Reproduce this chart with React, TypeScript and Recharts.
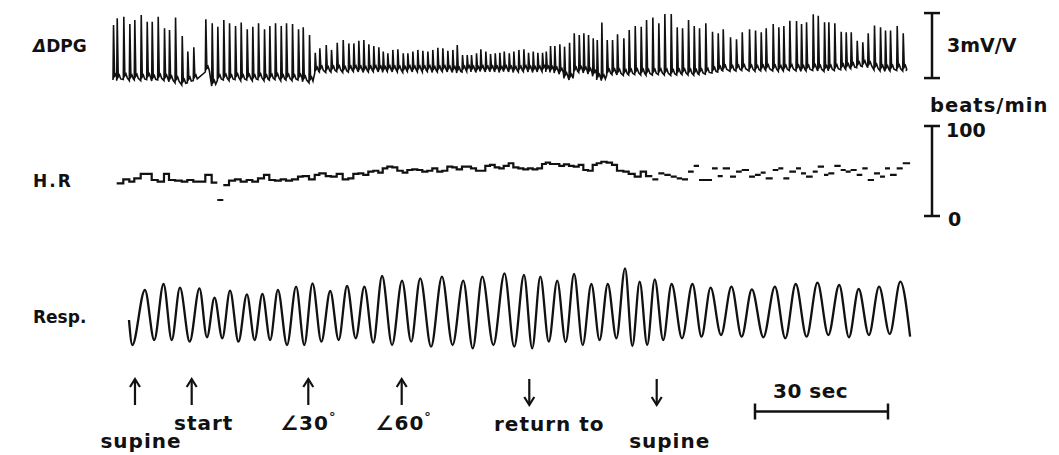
import { ComposedChart, Line, XAxis, YAxis, ReferenceLine, ReferenceDot } from 'recharts'

const W = 1059
const H = 455
const INK = '#111'
const FONT = '"DejaVu Sans", sans-serif'

// time axis: 30 s = 133 px, traces start at x = 113
const PX_PER_S = 133 / 30
const T0_PX = 113

// ---- beat times (s) ----
const beatT = [
  0.0, 0.83, 2.32, 3.68, 4.8, 6.25, 7.6, 8.73, 10.08, 11.5,
  12.63, 13.99, 15.5, 16.76, 18.11, 20.82, 22.26, 23.53, 24.88, 26.17,
  27.52, 28.8, 30.16, 31.42, 32.71, 34.06, 35.26, 36.54, 37.83, 39.02,
  40.38, 41.73, 42.79, 44.21, 45.5, 46.54, 47.98, 49.17, 50.46, 51.81,
  53.08, 54.21, 55.33, 56.46, 57.59, 58.71, 59.84, 60.84, 61.87, 63.0,
  64.13, 65.35, 66.39, 67.52, 68.64, 69.77, 70.9, 72.02, 73.15, 74.28,
  75.41, 76.54, 77.53, 78.72, 79.78, 80.75, 81.88, 82.85, 83.98, 85.04,
  86.1, 87.14, 88.13, 89.26, 90.3, 91.43, 92.56, 93.61, 94.67, 95.71,
  96.77, 97.61, 98.57, 99.54, 100.67, 101.73, 102.86, 103.92, 105.05, 106.09,
  107.14, 108.2, 109.11, 110.15, 111.36, 112.56, 113.68, 115.11, 116.32, 117.68,
  119.03, 120.23, 121.65, 123.0, 124.36, 125.8, 127.15, 128.35, 129.7, 130.99,
  132.18, 133.6, 135.11, 136.4, 137.53, 139.17, 140.52, 141.82, 143.46, 144.81,
  146.1, 147.22, 148.8, 150.07, 151.2, 152.55, 154.06, 155.19, 156.32, 157.83,
  158.96, 160.38, 161.35, 162.7, 164.14, 165.27, 166.4, 167.75, 169.01, 170.23,
  171.65, 173.01, 174.13, 175.26, 176.77, 178.13,
]

// ΔDPG peak and baseline per beat (mV/V)
const dpgPeak = [
  2.77, 3.08, 3.15, 2.81, 3.0, 3.23, 2.92, 2.92, 3.15, 2.62,
  2.54, 3.12, 2.26, 1.54, 1.74, 3.03, 2.85, 2.69, 3.0, 2.85,
  2.72, 2.88, 2.57, 2.69, 2.85, 2.57, 2.72, 2.85, 2.72, 2.85,
  2.81, 2.57, 2.66, 2.31, 1.49, 1.69, 1.85, 1.62, 1.95, 2.08,
  1.92, 1.92, 2.04, 2.08, 1.88, 1.8, 1.74, 1.54, 1.46, 1.62,
  1.65, 1.46, 1.46, 1.54, 1.62, 1.58, 1.54, 1.62, 1.72, 1.69,
  1.58, 1.62, 1.85, 1.38, 1.38, 1.38, 1.46, 1.65, 1.54, 1.43,
  1.46, 1.49, 1.54, 1.46, 1.54, 1.62, 1.65, 1.49, 1.54, 1.49,
  1.49, 1.54, 1.8, 1.8, 1.88, 1.77, 1.95, 2.39, 2.31, 2.39,
  2.31, 2.16, 2.08, 2.88, 2.08, 2.08, 2.34, 2.16, 2.54, 2.72,
  2.69, 3.0, 3.12, 2.85, 3.28, 3.28, 2.66, 2.62, 3.0, 2.72,
  2.62, 2.85, 2.46, 2.39, 2.57, 2.2, 2.11, 2.43, 2.57, 2.51,
  2.43, 2.62, 2.81, 2.66, 2.72, 2.97, 2.95, 2.81, 2.89, 3.26,
  3.2, 2.89, 2.89, 2.85, 2.46, 2.43, 2.43, 2.04, 1.97, 2.39,
  2.74, 2.66, 2.51, 2.51, 2.72, 2.39,
]
const dpgBase = [
  0.23, 0.2, 0.25, 0.2, 0.23, 0.2, 0.25, 0.18, 0.23, 0.2,
  0.15, 0.1, 0.0, 0.1, 0.2, 0.6, -0.05, 0.2, 0.23, 0.2,
  0.25, 0.2, 0.23, 0.2, 0.25, 0.2, 0.23, 0.25, 0.2, 0.23,
  0.2, 0.23, 0.15, 0.1, 0.55, 0.6, 0.58, 0.6, 0.62, 0.58,
  0.6, 0.62, 0.6, 0.58, 0.6, 0.62, 0.6, 0.58, 0.62, 0.6,
  0.6, 0.58, 0.62, 0.6, 0.61, 0.6, 0.62, 0.58, 0.6, 0.62,
  0.6, 0.58, 0.55, 0.6, 0.62, 0.6, 0.58, 0.62, 0.6, 0.61,
  0.6, 0.58, 0.62, 0.6, 0.58, 0.6, 0.62, 0.6, 0.58, 0.6,
  0.62, 0.6, 0.58, 0.55, 0.5, 0.3, 0.23, 0.55, 0.58, 0.55,
  0.5, 0.4, 0.23, 0.2, 0.46, 0.48, 0.46, 0.44, 0.46, 0.48,
  0.46, 0.45, 0.46, 0.48, 0.46, 0.44, 0.46, 0.48, 0.46, 0.45,
  0.48, 0.5, 0.55, 0.6, 0.65, 0.63, 0.65, 0.67, 0.65, 0.63,
  0.65, 0.67, 0.65, 0.63, 0.65, 0.67, 0.65, 0.63, 0.65, 0.67,
  0.65, 0.63, 0.65, 0.67, 0.7, 0.72, 0.75, 0.8, 0.85, 0.8,
  0.7, 0.65, 0.63, 0.65, 0.67, 0.65,
]
const DPG_END_T = 178.9

// heart rate per beat (beats/min), step trace
const hrBpm: (number | null)[] = [
  null, 36.3, 40.8, 38.1, 41.9, 46.7, 46.7, 40.0, 38.1, 46.7,
  40.0, 39.2, 38.1, 40.0, 38.1, 45.6, 37.0, 17.8, 34.4, 39.2,
  40.8, 38.1, 40.0, 38.1, 41.9, 45.6, 40.0, 39.2, 40.8, 39.2,
  40.8, 43.7, 44.4, 40.8, 45.6, 47.4, 44.4, 43.7, 46.7, 40.8,
  41.9, 46.7, 47.4, 45.6, 49.2, 50.3, 48.1, 53.0, 54.8, 54.1,
  50.3, 48.1, 51.1, 51.9, 51.1, 49.2, 50.3, 53.0, 49.2, 50.3,
  54.8, 54.1, 51.9, 54.8, 54.8, 53.0, 50.3, 50.3, 55.6, 56.7,
  54.1, 53.0, 55.6, 58.6, 54.1, 53.0, 51.9, 53.0, 51.9, 53.0,
  57.8, 59.2, 57.8, 57.8, 55.6, 57.4, 55.6, 54.8, 56.7, 51.1,
  50.3, 56.7, 58.6, 60.3, 59.2, 56.7, 50.3, 49.2, 46.7, 43.7,
  49.2, 44.4, 40.8, 47.4, 45.6, 43.7, 41.9, 40.8, 49.2, 55.6,
  40.0, 40.0, 53.0, 44.4, 53.0, 43.7, 49.2, 51.1, 43.7, 45.6,
  48.1, 41.9, 51.1, 53.0, 41.9, 49.2, 53.0, 47.4, 43.7, 49.2,
  54.8, 45.6, 47.4, 55.6, 51.1, 49.2, 51.1, 45.6, 53.0, 40.0,
  47.4, 43.7, 53.0, 45.6, 53.0, 58.6,
]
const hrLoneBeats = [17]
const HR_BROKEN_FROM_T = 121
const HR_END_T = 179.8

// respiration: alternating troughs / peaks (a.u.)
const respT = [
  3.61, 4.35, 7.2, 9.3, 11.4, 13.25, 15.1, 17.3, 19.5, 21.2, 22.9, 24.65, 26.4, 28.3,
  30.2, 31.95, 33.7, 35.45, 37.2, 39.25, 41.3, 43.15, 45.0, 47.0, 49.0, 50.9, 52.8,
  54.75, 56.7, 58.7, 60.7, 62.95, 65.2, 67.25, 69.3, 71.75, 74.2, 76.6, 79.0, 81.15,
  83.3, 85.8, 88.3, 90.5, 92.7, 94.55, 96.4, 98.3, 100.2, 102.1, 104.0, 105.95, 107.9,
  109.75, 111.6, 113.55, 115.5, 117.15, 118.8, 120.5, 122.2, 124.1, 126.0, 128.35,
  130.7, 132.75, 134.8, 137.15, 139.5, 141.8, 144.1, 146.7, 149.3, 151.65, 154.0,
  156.45, 158.9, 161.35, 163.8, 166.0, 168.2, 170.5, 172.8, 175.2, 177.6, 179.8,
]
const respV = [
  30, 5, 60, 10, 66, 10, 62.3, 8.3, 61.7, 12.7, 52.3, 11.7, 59.3, 8.3,
  55.7, 10, 56, 10, 60, 5, 63.3, 5, 66.7, 8.3, 59, 10, 64,
  11.7, 63.3, 7.3, 74, 5, 69.3, 8.3, 71.7, 3.3, 73.3, 5, 69.3, 1.7,
  73.3, 5, 76.7, 3.3, 75, 1.7, 73.3, 8.3, 69.3, 8, 76, 5, 66,
  10, 66, 11.7, 81.7, 4, 68.3, 5, 70.7, 10, 66, 11.7,
  66, 13.3, 62.3, 15, 63.3, 13.3, 60.7, 12.7, 63.3, 11.7, 66,
  13.3, 67.3, 15, 65, 12.7, 61, 15, 63.3, 16, 68.3, 13.3,
]

// event markers
const eventT = [4.96, 17.75, 44.05, 65.12, 93.9, 122.64]
const eventLabel = ['supine', 'start', '∠30°', '∠60°', 'return to', 'supine']
const eventDir = ['up', 'up', 'up', 'up', 'down', 'down']

// layout for the event labels (px)
const eventLabelDx = [6, 12, 0, 2, 20, 13]
const eventLabelY = [448, 430, 430, 430, 431, 448]
const ARROW_Y = 392

// scale bars
const BAR_T = (932 - T0_PX) / PX_PER_S
const CAP = 8 / PX_PER_S
const DPG_BAR_BOTTOM = 0.32
const DPG_BAR_SIZE = 3
const TIME_BAR_T = 144.81
const TIME_BAR_SIZE = 30
const TIME_BAR_Y = 411.5

// a y domain that puts value 0 at pixel zeroPx with pxPerUnit pixels per unit
const band = (zeroPx: number, pxPerUnit: number): [number, number] => [
  -(H - zeroPx) / pxPerUnit,
  zeroPx / pxPerUnit,
]

const dpgData: { t: number; v: number }[] = []
beatT.forEach((t, i) => {
  const b = dpgBase[i]
  dpgData.push(
    { t, v: b },
    { t: t + 0.12, v: dpgPeak[i] },
    { t: t + 0.35, v: b + 0.18 },
    { t: t + 0.6, v: b + 0.26 },
    { t: t + 0.9, v: b + 0.08 },
  )
})
dpgData.push({ t: DPG_END_T, v: dpgBase[dpgBase.length - 1] })

const hrData: { t: number; v: number | null }[] = []
hrBpm.forEach((v, i) => {
  if (v == null) return
  const t0 = beatT[i]
  const t1 = i + 1 < beatT.length ? beatT[i + 1] : HR_END_T
  const lone = hrLoneBeats.includes(i) || t0 >= HR_BROKEN_FROM_T
  if (lone) hrData.push({ t: t0, v: null })
  hrData.push({ t: t0, v }, { t: t1, v })
  if (lone) hrData.push({ t: t1, v: null })
})

const respData = respT.map((t, i) => ({ t, v: respV[i] }))

function EventArrow(props: any) {
  const { cx, cy, i } = props
  const up = eventDir[i] === 'up'
  const half = 13
  const tip = up ? cy - half : cy + half
  const back = up ? tip + 8 : tip - 8
  const label = eventLabel[i]
  const deg = label.endsWith('°')
  return (
    <g>
      <line x1={cx} x2={cx} y1={cy - half} y2={cy + half} stroke={INK} strokeWidth={2.2} />
      <polyline
        points={`${cx - 5},${back} ${cx},${tip} ${cx + 5},${back}`}
        fill="none" stroke={INK} strokeWidth={2.2}
      />
      <text
        x={cx + eventLabelDx[i]} y={eventLabelY[i]} textAnchor="middle"
        fontFamily={FONT} fontWeight="bold" fontSize={20} letterSpacing={1} fill={INK}
      >
        {deg ? label.slice(0, -1) : label}
        {deg && <tspan dy={-9} fontSize={13}>°</tspan>}
      </text>
    </g>
  )
}

const textStyle = { fontFamily: FONT, fontWeight: 'bold' as const, fill: INK }

const lineProps = {
  type: 'linear' as const,
  dataKey: 'v',
  stroke: INK,
  dot: false,
  activeDot: false,
  legendType: 'none' as const,
  isAnimationActive: false,
}

export default function App() {
  return (
    <div style={{ position: 'absolute', left: 0, top: 0, width: W, height: H, background: '#fff' }}>
      <ComposedChart width={W} height={H} margin={{ top: 0, right: 0, bottom: 0, left: 0 }}>
        <XAxis
          type="number" dataKey="t" hide allowDataOverflow
          domain={[-T0_PX / PX_PER_S, (W - T0_PX) / PX_PER_S]}
        />
        <YAxis yAxisId="dpg" type="number" hide allowDataOverflow domain={band(85, 65 / 3)} />
        <YAxis yAxisId="hr" type="number" hide allowDataOverflow domain={band(216, 0.9)} />
        <YAxis yAxisId="resp" type="number" hide allowDataOverflow domain={band(350, 1)} />
        <YAxis yAxisId="ann" type="number" hide allowDataOverflow domain={[0, H]} reversed />

        <Line {...lineProps} yAxisId="dpg" data={dpgData} strokeWidth={1.6} />
        <Line {...lineProps} yAxisId="hr" data={hrData} strokeWidth={2.2} />
        <Line {...lineProps} yAxisId="resp" data={respData} type="monotone" strokeWidth={2.3} />

        {/* ΔDPG scale bar */}
        <ReferenceLine yAxisId="dpg" ifOverflow="visible" stroke={INK} strokeWidth={2.5}
          segment={[{ x: BAR_T, y: DPG_BAR_BOTTOM }, { x: BAR_T, y: DPG_BAR_BOTTOM + DPG_BAR_SIZE }]} />
        <ReferenceLine yAxisId="dpg" ifOverflow="visible" stroke={INK} strokeWidth={2.5}
          segment={[{ x: BAR_T - CAP, y: DPG_BAR_BOTTOM }, { x: BAR_T + CAP, y: DPG_BAR_BOTTOM }]} />
        <ReferenceLine yAxisId="dpg" ifOverflow="visible" stroke={INK} strokeWidth={2.5}
          segment={[{ x: BAR_T - CAP, y: DPG_BAR_BOTTOM + DPG_BAR_SIZE }, { x: BAR_T + CAP, y: DPG_BAR_BOTTOM + DPG_BAR_SIZE }]} />

        {/* heart rate scale 0-100 */}
        <ReferenceLine yAxisId="hr" ifOverflow="visible" stroke={INK} strokeWidth={2.5}
          segment={[{ x: BAR_T, y: 0 }, { x: BAR_T, y: 100 }]} />
        <ReferenceLine yAxisId="hr" ifOverflow="visible" stroke={INK} strokeWidth={2.5}
          segment={[{ x: BAR_T - CAP, y: 0 }, { x: BAR_T + CAP, y: 0 }]} />
        <ReferenceLine yAxisId="hr" ifOverflow="visible" stroke={INK} strokeWidth={2.5}
          segment={[{ x: BAR_T - CAP, y: 100 }, { x: BAR_T + CAP, y: 100 }]} />

        {/* 30 sec bar */}
        <ReferenceLine yAxisId="ann" ifOverflow="visible" stroke={INK} strokeWidth={2.5}
          segment={[{ x: TIME_BAR_T, y: TIME_BAR_Y }, { x: TIME_BAR_T + TIME_BAR_SIZE, y: TIME_BAR_Y }]} />
        <ReferenceLine yAxisId="ann" ifOverflow="visible" stroke={INK} strokeWidth={2.5}
          segment={[{ x: TIME_BAR_T, y: TIME_BAR_Y - 8 }, { x: TIME_BAR_T, y: TIME_BAR_Y + 8 }]} />
        <ReferenceLine yAxisId="ann" ifOverflow="visible" stroke={INK} strokeWidth={2.5}
          segment={[{ x: TIME_BAR_T + TIME_BAR_SIZE, y: TIME_BAR_Y - 8 }, { x: TIME_BAR_T + TIME_BAR_SIZE, y: TIME_BAR_Y + 8 }]} />

        {eventT.map((t, i) => (
          <ReferenceDot key={i} yAxisId="ann" x={t} y={ARROW_Y} ifOverflow="visible"
            shape={(p: any) => <EventArrow {...p} i={i} />} />
        ))}
      </ComposedChart>

      <svg width={W} height={H} style={{ position: 'absolute', left: 0, top: 0, pointerEvents: 'none' }}>
        <text x={33} y={52} fontSize={17} {...textStyle}>
          <tspan fontStyle="italic">Δ</tspan>DPG
        </text>
        <text x={33} y={187} fontSize={17} letterSpacing={2} {...textStyle}>H.R</text>
        <text x={33} y={323} fontSize={17} {...textStyle}>Resp.</text>
        <text x={947} y={52} fontSize={19} {...textStyle}>3mV/V</text>
        <text x={930} y={112} fontSize={19.5} letterSpacing={1} {...textStyle}>beats/min</text>
        <text x={946} y={137} fontSize={19} {...textStyle}>100</text>
        <text x={948} y={226} fontSize={19} {...textStyle}>0</text>
        <text x={773} y={398} fontSize={20} letterSpacing={0.5} {...textStyle}>30 sec</text>
      </svg>
    </div>
  )
}
